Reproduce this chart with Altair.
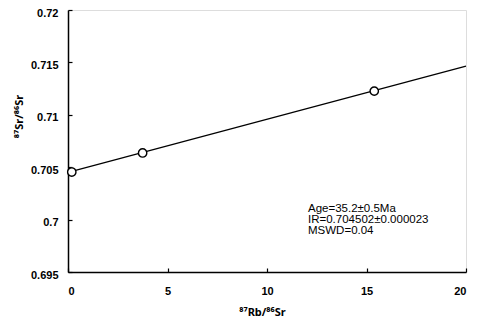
import altair as alt
import pandas as pd

# data
rb_sr = [0.19, 3.75, 15.39]
sr_sr = [0.70454, 0.70636, 0.71226]
line_x = [0, 20]
line_y = [0.704502, 0.71465]
x_ticks = [0, 5, 10, 15, 20]
y_ticks = [0.695, 0.7, 0.705, 0.71, 0.715, 0.72]
annotation = ["Age=35.2±0.5Ma", "IR=0.704502±0.000023", "MSWD=0.04"]

pts = pd.DataFrame({"x": rb_sr, "y": sr_sr})
ln = pd.DataFrame({"x": line_x, "y": line_y})

W, H = 398, 262
FONT = "Liberation Sans"
TFONT = "Noto Sans"

xscale = alt.Scale(domain=[0, 20], nice=False)
yscale = alt.Scale(domain=[0.695, 0.72], nice=False, zero=False)

line = alt.Chart(ln).mark_line(color="black", strokeWidth=1.2).encode(
    x=alt.X("x:Q", scale=xscale, axis=alt.Axis(
        values=x_ticks, title="⁸⁷Rb/⁸⁶Sr", ticks=False, grid=False,
        domainColor="black", domainWidth=1.5,
        labelFont=FONT, labelFontSize=11, labelFontWeight="bold", labelColor="black",
        labelPadding=13, titleFont=TFONT, titleFontSize=11, titleFontWeight="bold",
        titleColor="black", titlePadding=10, titleX=194)),
    y=alt.Y("y:Q", scale=yscale, axis=alt.Axis(
        values=y_ticks, format="~g", title="⁸⁷Sr/⁸⁶Sr", ticks=False, grid=False,
        domainColor="black", domainWidth=1.5,
        labelFont=FONT, labelFontSize=11, labelFontWeight="bold", labelColor="black",
        labelPadding=10, labelOffset=3,
        titleFont=TFONT, titleFontSize=11, titleFontWeight="bold", titleColor="black",
        titleAngle=-90, titleAlign="center", titleBaseline="middle",
        titleX=-49, titleY=106)),
)

points = alt.Chart(pts).mark_point(shape="circle", size=70, filled=True, fill="white",
                                   stroke="black", strokeWidth=1.4, opacity=1).encode(
    x=alt.X("x:Q", scale=xscale, axis=None),
    y=alt.Y("y:Q", scale=yscale, axis=None),
)

inner_ticks = alt.Chart(pts).mark_point(opacity=0).encode(
    x=alt.X("x:Q", scale=xscale, axis=alt.Axis(
        orient="top", offset=-H, values=x_ticks, labels=False, domain=False, grid=False,
        ticks=True, tickSize=4, tickColor="black", tickWidth=1.2, title=None)),
    y=alt.Y("y:Q", scale=yscale, axis=alt.Axis(
        orient="right", offset=-W, values=y_ticks, labels=False, domain=False, grid=False,
        ticks=True, tickSize=4, tickColor="black", tickWidth=1.2, title=None)),
)

ann = alt.Chart(pd.DataFrame({"a": [0]})).mark_text(
    text=annotation, align="left", baseline="middle", font=FONT, fontSize=11.5,
    lineHeight=11, color="black").encode(
    x=alt.value(240), y=alt.value(199))

chart = alt.layer(line, points, inner_ticks, ann).resolve_axis(
    x="independent", y="independent"
).properties(
    width=W, height=H,
    autosize=alt.AutoSizeParams(type="none"),
    padding={"left": 60, "top": 2, "right": 5, "bottom": 45},
).configure_view(stroke="black", strokeWidth=1.5).configure(background="white")

chart.save("out.html", embed_options={"renderer": "svg", "actions": False})
